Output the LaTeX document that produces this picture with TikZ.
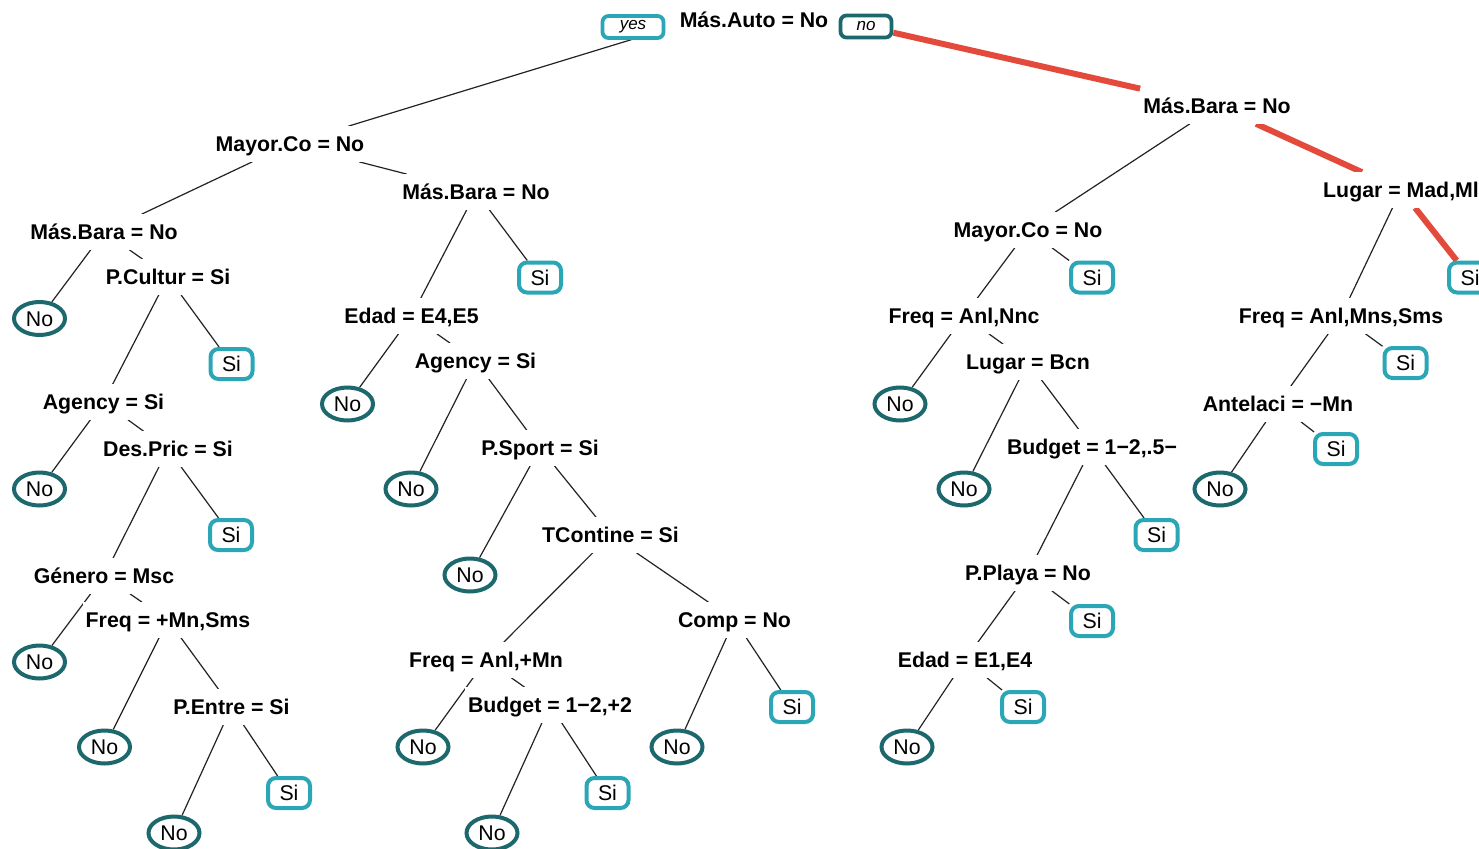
\documentclass[tikz,border=0pt]{standalone}
\usepackage{fontspec}
\setmainfont{Liberation Sans}
\usetikzlibrary{backgrounds,shapes.geometric}
\definecolor{noc}{RGB}{28,104,108}
\definecolor{sic}{RGB}{42,166,182}
\definecolor{redc}{RGB}{228,74,60}
\definecolor{edgec}{RGB}{35,35,35}
\tikzset{
  splitlbl/.style={font=\fontsize{21.3}{24}\selectfont\bfseries, fill=white,
    text height=15.3pt, text depth=0pt, inner xsep=3pt, inner ysep=10pt},
  noleaf/.style={ellipse, draw=noc, line width=4pt, fill=white,
    minimum width=51pt, minimum height=33pt, inner sep=0pt,
    font=\fontsize{21.3}{24}\selectfont, text height=15.3pt, text depth=0pt},
  sileaf/.style={rectangle, rounded corners=8pt, draw=sic, line width=4pt, fill=white,
    minimum width=42pt, minimum height=30pt, inner sep=0pt,
    font=\fontsize{21.3}{24}\selectfont, text height=15.3pt, text depth=0pt},
  yesno/.style={rectangle, rounded corners=6pt, line width=3.8pt, fill=white,
    minimum height=22pt, inner sep=0pt, font=\fontsize{17}{20}\selectfont\itshape},
  branch/.style={draw=edgec, line width=1.2pt},
  hot/.style={draw=redc, line width=6pt}
}
\begin{document}
\begin{tikzpicture}[x=1pt,y=-1pt]
\useasboundingbox (0,0) rectangle (1479,848);
\clip (0,0) rectangle (1479,848);
% root
\node[splitlbl, inner xsep=18pt] (root) at (754,20) {Más.Auto = No};
\node[yesno, draw=sic, minimum width=61pt] (yes) at (633,27) {yes};
\node[yesno, draw=noc, minimum width=51pt] (no) at (866,26.5) {no};
\node[splitlbl] (A) at (290,144) {Mayor.Co = No};
\node[splitlbl] (B) at (1217,106) {Más.Bara = No};
% left-left subtree
\node[splitlbl] (n1) at (104,232) {Más.Bara = No};
\node[noleaf] (n1a) at (39.5,318.5) {No};
\node[splitlbl] (n2) at (168,277) {P.Cultur = Si};
\node[sileaf] (n2b) at (231.5,364) {Si};
\node[splitlbl] (n3) at (103.5,402) {Agency = Si};
\node[noleaf] (n3a) at (39.5,489) {No};
\node[splitlbl] (n4) at (168,449) {Des.Pric = Si};
\node[sileaf] (n4b) at (231,535) {Si};
\node[splitlbl] (n5) at (104,576) {Género = Msc};
\node[noleaf] (n5a) at (39.5,662) {No};
\node[splitlbl] (n6) at (168,620) {Freq = +Mn,Sms};
\node[noleaf] (n6a) at (104.5,747) {No};
\node[splitlbl] (n7) at (231.5,707) {P.Entre = Si};
\node[noleaf] (n7a) at (174,833) {No};
\node[sileaf] (n7b) at (289,793) {Si};
% left-right subtree
\node[splitlbl] (m1) at (476,192) {Más.Bara = No};
\node[sileaf] (m1b) at (540,277.5) {Si};
\node[splitlbl] (m2) at (411.5,316) {Edad = E4,E5};
\node[noleaf] (m2a) at (347.5,404) {No};
\node[splitlbl] (m3) at (475.5,361) {Agency = Si};
\node[noleaf] (m3a) at (411,489) {No};
\node[splitlbl] (m4) at (540,448) {P.Sport = Si};
\node[noleaf] (m4a) at (470,575) {No};
\node[splitlbl] (m5) at (610.5,535) {TContine = Si};
\node[splitlbl] (m6) at (486,660) {Freq = Anl,+Mn};
\node[noleaf] (m6a) at (423,747) {No};
\node[splitlbl] (m7) at (550,705) {Budget = 1−2,+2};
\node[noleaf] (m7a) at (492,833) {No};
\node[sileaf] (m7b) at (607.5,793) {Si};
\node[splitlbl] (m8) at (734.5,620) {Comp = No};
\node[noleaf] (m8a) at (677,747) {No};
\node[sileaf] (m8b) at (792,707) {Si};
% right-left subtree
\node[splitlbl] (r1) at (1028,230) {Mayor.Co = No};
\node[sileaf] (r1b) at (1092,277.5) {Si};
\node[splitlbl] (r2) at (964,316) {Freq = Anl,Nnc};
\node[noleaf] (r2a) at (900,404) {No};
\node[splitlbl] (r3) at (1028,362) {Lugar = Bcn};
\node[noleaf] (r3a) at (964,489) {No};
\node[splitlbl] (r4) at (1092,447) {Budget = 1−2,.5−};
\node[sileaf] (r4b) at (1156.5,535) {Si};
\node[splitlbl] (r5) at (1028,573) {P.Playa = No};
\node[sileaf] (r5b) at (1092,621) {Si};
\node[splitlbl] (r6) at (965,660) {Edad = E1,E4};
\node[noleaf] (r6a) at (907,747) {No};
\node[sileaf] (r6b) at (1023,707) {Si};
% right-right subtree
\node[splitlbl, anchor=west] (s1) at (1320,190) {Lugar = Mad,Ml};
\node[sileaf] (s1b) at (1470,277.5) {Si};
\node[splitlbl] (s2) at (1341,316) {Freq = Anl,Mns,Sms};
\node[sileaf] (s2b) at (1405.5,363) {Si};
\node[splitlbl] (s3) at (1278,404) {Antelaci = −Mn};
\node[noleaf] (s3a) at (1220,489) {No};
\node[sileaf] (s3b) at (1336,449) {Si};
% connectors
\begin{scope}[on background layer]
\fill[white] (0,0) rectangle (1479,848);
\draw[branch, shorten <=4pt] (root.north) -- (A);
\draw[hot] (no) -- (B);
\draw[branch] (A) -- (n1);
\draw[branch] (A) -- (m1);
\draw[branch] (n1) -- (n1a);
\draw[branch] (n1) -- (n2);
\draw[branch] (n2) -- (n3);
\draw[branch] (n2) -- (n2b);
\draw[branch] (n3) -- (n3a);
\draw[branch] (n3) -- (n4);
\draw[branch] (n4) -- (n5);
\draw[branch] (n4) -- (n4b);
\draw[branch] (n5) -- (n5a);
\draw[branch] (n5) -- (n6);
\draw[branch] (n6) -- (n6a);
\draw[branch] (n6) -- (n7);
\draw[branch] (n7) -- (n7a);
\draw[branch] (n7) -- (n7b);
\draw[branch] (m1) -- (m2);
\draw[branch] (m1) -- (m1b);
\draw[branch] (m2) -- (m2a);
\draw[branch] (m2) -- (m3);
\draw[branch] (m3) -- (m3a);
\draw[branch] (m3) -- (m4);
\draw[branch] (m4) -- (m4a);
\draw[branch] (m4) -- (m5);
\draw[branch] (m5) -- (m6);
\draw[branch] (m5) -- (m8);
\draw[branch] (m6) -- (m6a);
\draw[branch] (m6) -- (m7);
\draw[branch] (m7) -- (m7a);
\draw[branch] (m7) -- (m7b);
\draw[branch] (m8) -- (m8a);
\draw[branch] (m8) -- (m8b);
\draw[branch] (B) -- (r1);
\draw[hot] (B) -- (s1);
\draw[branch] (r1) -- (r2);
\draw[branch] (r1) -- (r1b);
\draw[branch] (r2) -- (r2a);
\draw[branch] (r2) -- (r3);
\draw[branch] (r3) -- (r3a);
\draw[branch] (r3) -- (r4);
\draw[branch] (r4) -- (r5);
\draw[branch] (r4) -- (r4b);
\draw[branch] (r5) -- (r6);
\draw[branch] (r5) -- (r5b);
\draw[branch] (r6) -- (r6a);
\draw[branch] (r6) -- (r6b);
\draw[branch] (s1) -- (s2);
\draw[hot] (s1) -- (s1b);
\draw[branch] (s2) -- (s3);
\draw[branch] (s2) -- (s2b);
\draw[branch] (s3) -- (s3a);
\draw[branch] (s3) -- (s3b);
\end{scope}
\end{tikzpicture}
\end{document}
